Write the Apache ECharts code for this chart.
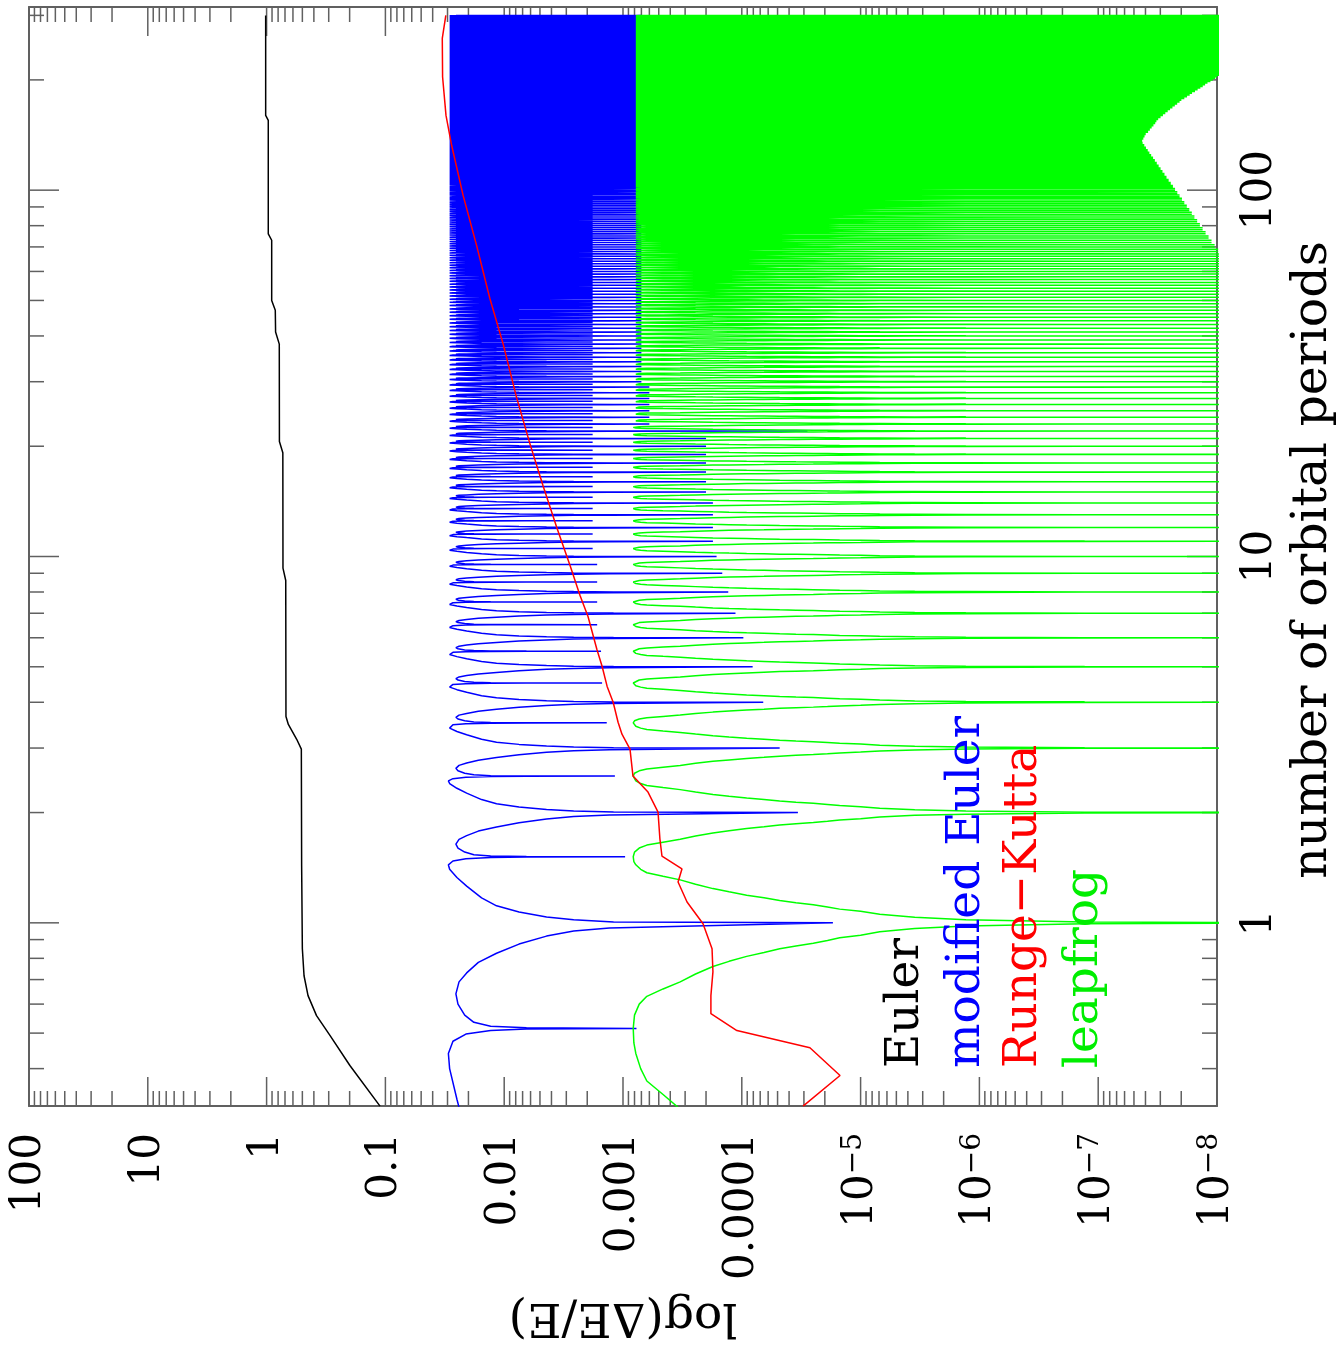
<!DOCTYPE html>
<html>
<head>
<meta charset="utf-8">
<script src="https://cdn.jsdelivr.net/npm/echarts@6/dist/echarts.min.js"></script>
<style>
html,body{margin:0;padding:0;background:#ffffff;}
#chart{width:1343px;height:1348px;}
</style>
</head>
<body>
<div id="chart"></div>
<script>
// ---------------- axis ranges & tick labels ----------------
const PERIOD_MIN = 0.316228, PERIOD_MAX = 316.228;
const ENERGY_MIN = 1e-8, ENERGY_MAX = 99.99;

const energyTickValues = [100, 10, 1, 0.1, 0.01, 0.001, 0.0001, 1e-5, 1e-6, 1e-7, 1e-8];
const energyTickLabels = ['100', '10', '1', '0.1', '0.01', '0.001', '0.0001',
  '{b|10}{s|\u22125}', '{b|10}{s|\u22126}', '{b|10}{s|\u22127}', '{b|10}{s|\u22128}'];
const energyMinorMantissas = [2, 3, 4, 5, 6, 7, 8, 9];
const energyDecades = [1e-8, 1e-7, 1e-6, 1e-5, 1e-4, 1e-3, 1e-2, 0.1, 1, 10];
const periodTickValues = [1, 10, 100];
const periodTickLabels = ['1', '10', '100'];
const periodMinorTicks = [0.4, 0.5, 0.6, 0.7, 0.8, 0.9, 2, 3, 4, 5, 6, 7, 8, 9,
  20, 30, 40, 50, 60, 70, 80, 90, 200, 300];

// ---------------- Euler (black) ----------------
const eulerPeriods = [0.316, 0.408, 0.492, 0.558, 0.633, 0.717, 0.85, 1.43, 2.98, 3.17, 3.48, 3.66,
  8.6, 9.3, 19.2, 20.6, 38, 41, 47, 50, 73, 76, 155, 160, 300];
const eulerValues = [0.111, 0.199, 0.292, 0.38, 0.448, 0.484, 0.50, 0.507, 0.51, 0.558, 0.656, 0.687,
  0.69, 0.728, 0.73, 0.78, 0.782, 0.84, 0.845, 0.906, 0.906, 0.968, 0.968, 1.018, 1.018];

// ---------------- Runge-Kutta (red) ----------------
const rkPeriods = [0.316, 0.383, 0.456, 0.508, 0.565, 0.633, 0.735, 0.85, 0.994, 1.14, 1.293, 1.403,
  1.522, 1.694, 2.006, 2.275, 2.515, 2.979, 3.273, 3.529, 4.0, 4.42, 5.015, 5.58, 6.86, 7.83, 9.45,
  12.0, 15.6, 20.3, 27.1, 38.0, 50.6, 70.8, 96.9, 132.6, 160, 203.7, 259.5, 300];
const rkValues = [3.05e-5, 1.49e-5, 2.67e-5, 1.10e-4, 1.82e-4, 1.82e-4, 1.75e-4, 1.78e-4, 2.12e-4,
  2.89e-4, 3.44e-4, 3.19e-4, 4.70e-4, 4.89e-4, 5.07e-4, 6.16e-4, 8.24e-4, 8.73e-4, 1.02e-3, 1.10e-3,
  1.21e-3, 1.36e-3, 1.50e-3, 1.66e-3, 1.97e-3, 2.30e-3, 2.79e-3, 3.61e-3, 4.71e-3, 6.07e-3, 7.85e-3,
  1.02e-2, 1.32e-2, 1.71e-2, 2.22e-2, 2.77e-2, 3.09e-2, 3.30e-2, 3.32e-2, 3.10e-2];

// ---------------- modified Euler (blue): shape read within one orbit ----------------
// phase inside orbit n: deep dip at phase 0, shallow dip at phase 0.515 (index 15)
const LAST_ORBIT = 300;
const bluePhase = [0, 0.006, 0.02, 0.038, 0.07, 0.113, 0.17, 0.26, 0.33, 0.40, 0.44, 0.475, 0.497,
  0.508, 0.513, 0.515, 0.517, 0.522, 0.535, 0.56, 0.60, 0.64, 0.69, 0.73, 0.78, 0.826, 0.875, 0.92,
  0.95, 0.968];
const blueLevel = [null, 1.2e-3, 2.6e-3, 4.4e-3, 7.5e-3, 1.16e-2, 1.55e-2, 2.07e-2, 2.5e-2, 2.88e-2,
  2.95e-2, 2.7e-2, 2.1e-2, 1.3e-2, 6.5e-3, null, 6.5e-3, 1.3e-2, 1.8e-2, 2.15e-2, 2.45e-2, 2.55e-2,
  2.4e-2, 2.07e-2, 1.65e-2, 1.16e-2, 7.5e-3, 4.4e-3, 2.6e-3, 1.3e-3];
const BLUE_SHALLOW_INDEX = 15;
// depth of the dips per orbit: [firstOrbit, lastOrbit, value]
const blueDeepDip = [[1, 1, 1.71e-5], [2, 2, 3.37e-5], [3, 3, 4.8e-5], [4, 4, 6.6e-5], [5, 5, 8.1e-5],
  [6, 6, 9.7e-5], [7, 7, 1.13e-4], [8, 8, 1.3e-4], [9, 9, 1.46e-4], [10, 10, 1.63e-4],
  [11, 14, 1.75e-4], [15, 21, 2.0e-4], [22, 22, 2.8e-5], [23, 29, 6.0e-4], [30, 300, 7.0e-4]];
const blueShallowDip = [[0, 0, 7.7e-4], [1, 1, 9.6e-4], [2, 2, 1.17e-3], [3, 3, 1.37e-3],
  [4, 4, 1.5e-3], [5, 5, 1.53e-3], [6, 9, 1.65e-3], [10, 300, 1.8e-3]];

// ---------------- leapfrog (green): shape read within one orbit ----------------
const greenPhase = [0, 0.005, 0.02, 0.035, 0.055, 0.075, 0.09, 0.105, 0.12, 0.135, 0.15, 0.17, 0.19,
  0.215, 0.24, 0.275, 0.31, 0.34, 0.37, 0.40, 0.44, 0.47, 0.515,
  0.56, 0.60, 0.63, 0.66, 0.69, 0.725, 0.76, 0.785, 0.81, 0.83, 0.85, 0.865, 0.88, 0.895, 0.91,
  0.925, 0.945, 0.965, 0.98, 0.995];
const greenLevel = [null, 1.3e-7, 1.3e-6, 3.5e-6, 6.9e-6, 1.0e-5, 1.5e-5, 1.9e-5, 2.5e-5, 3.5e-5,
  4.8e-5, 6.5e-5, 9.1e-5, 1.28e-4, 1.75e-4, 2.45e-4, 3.3e-4, 4.6e-4, 6.3e-4, 7.1e-4, 7.8e-4, 8.1e-4,
  8.2e-4,
  8.0e-4, 7.3e-4, 6.3e-4, 4.6e-4, 3.3e-4, 2.45e-4, 1.75e-4, 1.28e-4, 9.1e-5, 6.5e-5, 4.8e-5, 3.5e-5,
  2.5e-5, 1.9e-5, 1.5e-5, 1.0e-5, 6.9e-6, 3.5e-6, 1.3e-6, 1.3e-7];
const greenDeepDip = 1e-9; // dips run past the 10^-8 edge
// orbits 68..205 (two orbits per entry): dips that stop short of the edge (log10 of the value)
const greenTriangleFirstOrbit = 68;
const greenTriangleDipLog10 = [-8.01, -7.98, -7.954, -7.929, -7.904, -7.879, -7.856, -7.833, -7.81,
  -7.788, -7.767, -7.746, -7.725, -7.705, -7.685, -7.666, -7.647, -7.629, -7.611, -7.593, -7.575,
  -7.558, -7.541, -7.525, -7.509, -7.493, -7.477, -7.462, -7.446, -7.431, -7.417, -7.402, -7.388,
  -7.374, -7.37, -7.38, -7.39, -7.40, -7.42, -7.435, -7.45, -7.465, -7.48, -7.49, -7.505, -7.525,
  -7.545, -7.565, -7.585, -7.605, -7.625, -7.645, -7.665, -7.685, -7.70, -7.725, -7.748, -7.77,
  -7.79, -7.815, -7.837, -7.86, -7.88, -7.90, -7.92, -7.945, -7.965, -7.985, -8.0];

// ---------------- build series tables ----------------
function runValue(runs, n) {
  for (const r of runs) if (n >= r[0] && n <= r[1]) return r[2];
  return runs[runs.length - 1][2];
}
function pairs(periods, values) { return periods.map((p, i) => [values[i], p]); }

const blueData = [];
for (let n = 0; n <= LAST_ORBIT; n++) {
  for (let k = 0; k < bluePhase.length; k++) {
    const p = n + bluePhase[k];
    if (p < 0.2 || p > LAST_ORBIT) continue;
    let v = blueLevel[k];
    if (k === 0) v = runValue(blueDeepDip, n);
    if (k === BLUE_SHALLOW_INDEX) v = runValue(blueShallowDip, n);
    blueData.push([v, p]);
  }
}
const greenData = [];
for (let n = 0; n <= LAST_ORBIT; n++) {
  for (let k = 0; k < greenPhase.length; k++) {
    const p = n + greenPhase[k];
    if (p < 0.2 || p > LAST_ORBIT) continue;
    let v = greenLevel[k];
    if (k === 0) {
      const idx = Math.floor((n - greenTriangleFirstOrbit) / 2);
      v = (idx >= 0 && idx < greenTriangleDipLog10.length) ? Math.pow(10, greenTriangleDipLog10[idx]) : greenDeepDip;
    }
    greenData.push([v, p]);
  }
}

// tick marks on the four sides of the frame: [energy, period, side, length]
const tickData = [];
energyTickValues.forEach(v => { tickData.push([v, PERIOD_MIN, 0, 29]); tickData.push([v, PERIOD_MAX, 1, 29]); });
energyDecades.forEach(d => energyMinorMantissas.forEach(m => {
  const v = m * d;
  tickData.push([v, PERIOD_MIN, 0, 15]); tickData.push([v, PERIOD_MAX, 1, 15]);
}));
periodTickValues.forEach(p => { tickData.push([100, p, 2, 30]); tickData.push([ENERGY_MIN, p, 3, 30]); });
periodMinorTicks.forEach(p => { tickData.push([100, p, 2, 15]); tickData.push([ENERGY_MIN, p, 3, 15]); });

// ---------------- chart ----------------
const SERIF = '"DejaVu Serif", "Liberation Serif", serif';
const FRAME = '#606060';
const LABEL_SIZE = 42, TEXT_SIZE = 47, TITLE_SIZE = 49;

function labelFor(values, labels, v) {
  const e = Math.log10(v), r = Math.round(e);
  if (Math.abs(e - r) > 0.01) return '';
  const i = values.findIndex(t => Math.round(Math.log10(t)) === r);
  return i >= 0 ? labels[i] : '';
}

const frameLine = { show: true, lineStyle: { color: FRAME, width: 2 } };
const energyAxisBase = {
  type: 'log', logBase: 10, min: ENERGY_MIN, max: ENERGY_MAX, inverse: true, splitNumber: 10,
  axisLine: frameLine, axisTick: { show: false }, minorTick: { show: false },
  splitLine: { show: false }, minorSplitLine: { show: false }
};
const periodAxisBase = {
  type: 'log', logBase: 10, min: PERIOD_MIN, max: PERIOD_MAX,
  axisLine: frameLine, axisTick: { show: false }, minorTick: { show: false },
  splitLine: { show: false }, minorSplitLine: { show: false }
};
function textEl(x, y, rot, text, color, align, size) {
  return { type: 'text', x: x, y: y, rotation: rot, z: 10,
    style: { text: text, fill: color, font: size + 'px ' + SERIF, align: align, verticalAlign: 'middle',
      textAlign: align, textVerticalAlign: 'middle' } };
}

const option = {
  animation: false,
  backgroundColor: '#ffffff',
  textStyle: { fontFamily: SERIF },
  grid: { left: 29, right: 126, top: 7, bottom: 242, containLabel: false, outerBoundsMode: 'none' },
  xAxis: [
    Object.assign({}, energyAxisBase, {
      position: 'bottom',
      axisLabel: {
        show: true, rotate: 90, margin: 27, interval: 0, showMinLabel: true, showMaxLabel: true,
        color: '#000', fontFamily: SERIF, fontSize: LABEL_SIZE,
        formatter: v => labelFor(energyTickValues, energyTickLabels, v),
        rich: {
          b: { fontFamily: SERIF, fontSize: LABEL_SIZE, color: '#000' },
          s: { fontFamily: SERIF, fontSize: 28, color: '#000', verticalAlign: 'top' }
        }
      }
    }),
    Object.assign({}, energyAxisBase, { position: 'top', axisLabel: { show: false } })
  ],
  yAxis: [
    Object.assign({}, periodAxisBase, {
      position: 'right',
      axisLabel: {
        show: true, rotate: 90, margin: 22, showMinLabel: false, showMaxLabel: false,
        color: '#000', fontFamily: SERIF, fontSize: LABEL_SIZE,
        formatter: v => labelFor(periodTickValues, periodTickLabels, v)
      }
    }),
    Object.assign({}, periodAxisBase, { position: 'left', axisLabel: { show: false } })
  ],
  graphic: [
    textEl(906, 1068, Math.PI / 2, 'Euler', '#000000', 'left', TEXT_SIZE),
    textEl(967, 1068, Math.PI / 2, 'modified Euler', '#0000ff', 'left', TEXT_SIZE),
    textEl(1024, 1068, Math.PI / 2, 'Runge\u2212Kutta', '#ff0000', 'left', TEXT_SIZE),
    textEl(1085, 1068, Math.PI / 2, 'leapfrog', '#00ee00', 'left', TEXT_SIZE),
    textEl(1313, 560, Math.PI / 2, 'number of orbital periods', '#000000', 'center', TITLE_SIZE),
    textEl(623, 1316, Math.PI, 'log(\u0394E/E)', '#000000', 'center', TEXT_SIZE)
  ],
  series: [
    {
      type: 'custom', name: 'ticks', coordinateSystem: 'cartesian2d', xAxisIndex: 0, yAxisIndex: 0,
      data: tickData, silent: true, z: 1, clip: false, encode: { x: 0, y: 1 },
      renderItem: (params, api) => {
        const p = api.coord([api.value(0), api.value(1)]);
        const side = api.value(2), len = api.value(3);
        let x2 = p[0], y2 = p[1];
        if (side === 0) y2 = p[1] - len;
        else if (side === 1) y2 = p[1] + len;
        else if (side === 2) x2 = p[0] + len;
        else x2 = p[0] - len;
        return { type: 'line', shape: { x1: p[0], y1: p[1], x2: x2, y2: y2 }, style: { stroke: FRAME, lineWidth: 1.5 } };
      }
    },
    { type: 'line', name: 'Euler', data: pairs(eulerPeriods, eulerValues), xAxisIndex: 0, yAxisIndex: 0,
      symbol: 'none', showSymbol: false, silent: true, z: 2, lineStyle: { color: '#000000', width: 1.5 } },
    { type: 'line', name: 'modified Euler', data: blueData, xAxisIndex: 0, yAxisIndex: 0,
      symbol: 'none', showSymbol: false, silent: true, z: 2, progressive: 0, lineStyle: { color: '#0000ff', width: 1.5 } },
    { type: 'line', name: 'leapfrog', data: greenData, xAxisIndex: 0, yAxisIndex: 0,
      symbol: 'none', showSymbol: false, silent: true, z: 2, progressive: 0, lineStyle: { color: '#00ff00', width: 1.5 } },
    { type: 'line', name: 'Runge-Kutta', data: pairs(rkPeriods, rkValues), xAxisIndex: 0, yAxisIndex: 0,
      symbol: 'none', showSymbol: false, silent: true, z: 2, lineStyle: { color: '#ff0000', width: 1.5 } }
  ]
};

const chart = echarts.init(document.getElementById('chart'), null, { renderer: 'canvas' });
chart.setOption(option);
</script>
</body>
</html>
